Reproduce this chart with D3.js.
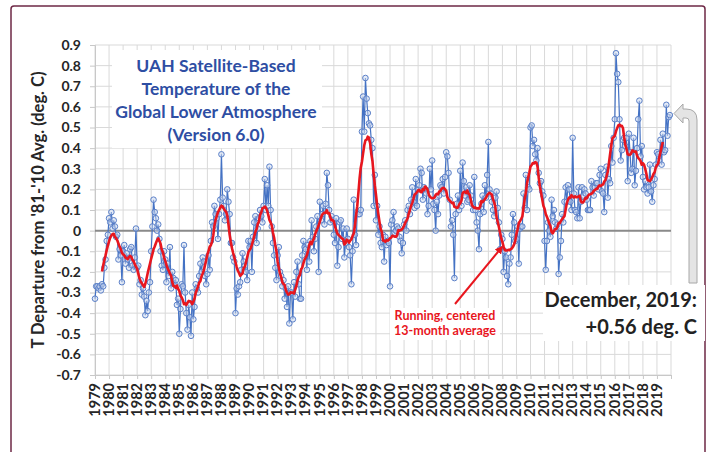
<!DOCTYPE html>
<meta charset="utf-8">
<style>
body { margin: 0; background: #fff; }
text { font-family: Lato, "Liberation Sans", sans-serif; }
.grid line { stroke: #d9d9d9; stroke-width: 1; }
.axis path, .axis line { stroke: #c8c8c8; }
.axis text { font-weight: bold; fill: #262626; }
</style>
<svg width="715" height="452"></svg>
<script src="https://d3js.org/d3.v7.min.js"></script>
<script>

// UAH v6.0 global lower troposphere, monthly anomaly (deg C, 1981-2010 base)
var t1979_1988 = [
  -0.33,-0.27,-0.27,-0.28,-0.27,-0.29,-0.26,-0.27,-0.18,-0.14,-0.05,-0.02,
  0.06,0.04,0.09,0.01,0.05,0.02,-0.03,-0.02,-0.14,-0.09,-0.12,-0.25,
  -0.10,-0.07,-0.16,-0.11,-0.14,-0.18,-0.09,-0.08,-0.17,-0.19,-0.13,0.01,
  -0.18,-0.17,-0.26,-0.24,-0.31,-0.28,-0.32,-0.41,-0.34,-0.39,-0.30,-0.25,
  -0.10,0.02,0.15,0.09,0.06,0.00,0.03,-0.04,-0.10,-0.17,-0.19,-0.10,
  -0.14,-0.25,-0.16,-0.22,-0.08,-0.28,-0.20,-0.23,-0.26,-0.24,-0.36,-0.33,
  -0.50,-0.38,-0.26,-0.27,-0.07,-0.30,-0.40,-0.48,-0.36,-0.42,-0.51,-0.30,
  -0.43,-0.37,-0.26,-0.28,-0.30,-0.22,-0.16,-0.20,-0.13,-0.15,-0.22,-0.26,
  -0.21,-0.12,-0.19,-0.05,0.04,0.02,0.12,0.08,0.06,-0.04,0.08,0.15,
  0.37,0.16,0.12,0.05,0.08,0.20,0.14,0.08,-0.06,-0.06,-0.13,-0.15
];
var t1989_1998 = [
  -0.40,-0.28,-0.31,-0.27,-0.25,-0.19,-0.11,-0.15,-0.17,-0.20,-0.24,-0.05,
  -0.08,-0.05,-0.20,-0.03,0.04,0.07,-0.06,0.01,0.06,0.10,0.07,0.04,
  0.12,0.25,0.10,0.22,0.12,0.31,0.10,0.02,-0.06,-0.12,-0.18,-0.24,
  -0.12,-0.08,-0.20,-0.22,-0.27,-0.24,-0.33,-0.28,-0.37,-0.27,-0.45,-0.30,
  -0.30,-0.43,-0.25,-0.32,-0.20,-0.15,-0.26,-0.33,-0.33,-0.12,-0.05,-0.08,
  -0.09,-0.19,-0.07,-0.15,-0.05,0.05,-0.03,-0.10,-0.04,0.02,0.07,-0.20,
  0.14,0.05,0.08,0.12,0.03,0.13,0.28,0.22,0.10,0.04,0.07,0.05,
  -0.02,-0.06,0.06,-0.17,-0.08,0.04,0.05,-0.04,0.01,-0.13,-0.06,0.01,
  -0.04,-0.08,-0.12,-0.26,-0.10,0.15,-0.02,-0.07,0.09,0.08,0.08,0.10,
  0.48,0.65,0.48,0.74,0.64,0.57,0.52,0.51,0.44,0.40,0.12,0.27
];
var t1999_2008 = [
  0.05,0.12,-0.02,0.02,-0.06,-0.08,-0.02,-0.15,-0.03,-0.07,-0.05,-0.06,
  -0.27,0.03,0.05,0.09,-0.01,0.00,0.02,0.01,-0.03,-0.05,-0.11,-0.06,
  0.03,0.05,0.00,0.10,0.12,0.08,0.15,0.21,0.14,0.11,0.25,0.12,
  0.20,0.22,0.30,0.28,0.15,0.21,0.20,0.18,0.08,0.12,0.30,0.20,
  0.34,0.13,0.10,0.00,0.14,0.08,0.17,0.22,0.21,0.25,0.18,0.26,
  0.38,0.36,0.28,0.15,0.02,0.05,-0.02,-0.23,0.08,0.13,0.17,0.10,
  0.29,0.12,0.33,0.24,0.17,0.21,0.14,0.15,0.22,0.17,0.13,0.10,
  0.26,0.10,0.04,0.00,-0.09,0.08,0.13,0.17,0.09,0.22,0.16,0.27,
  0.43,0.20,0.18,0.14,0.10,0.07,0.16,0.19,0.11,0.04,-0.09,-0.02,
  -0.04,-0.20,-0.10,-0.13,-0.22,-0.26,-0.16,-0.13,-0.02,0.08,0.04,-0.05
];
var t2009_2019 = [
  -0.04,0.02,-0.16,0.01,0.02,0.02,0.18,0.11,0.27,0.10,0.21,0.20,
  0.50,0.51,0.41,0.44,0.37,0.34,0.40,0.28,0.23,0.24,0.19,0.17,
  -0.05,-0.19,-0.05,0.04,0.00,-0.03,0.15,0.07,0.10,0.04,0.01,0.03,
  -0.21,-0.13,-0.05,0.08,0.04,0.14,0.21,0.14,0.22,0.20,0.14,0.10,
  0.45,0.18,0.10,0.09,0.06,0.21,0.06,0.14,0.21,0.17,0.20,0.18,
  0.15,0.10,0.10,0.10,0.24,0.21,0.17,0.21,0.23,0.23,0.20,0.27,
  0.30,0.19,0.18,0.09,0.27,0.31,0.16,0.25,0.23,0.41,0.33,0.45,
  0.54,0.86,0.76,0.72,0.54,0.34,0.39,0.44,0.45,0.41,0.45,0.24,
  0.47,0.38,0.28,0.30,0.45,0.22,0.29,0.40,0.54,0.63,0.36,0.41,
  0.26,0.20,0.24,0.21,0.18,0.21,0.32,0.19,0.14,0.22,0.25,0.32,
  0.38,0.37,0.34,0.44,0.32,0.47,0.38,0.39,0.61,0.46,0.55,0.56
];
var yearLabels = d3.range(1979, 2020).map(String);
var yTicks = d3.range(-7, 10).map(function(d) { return d / 10; });
var titleLines = ["UAH Satellite-Based", "Temperature of the", "Global Lower Atmosphere", "(Version 6.0)"];

var temps = t1979_1988.concat(t1989_1998, t1999_2008, t2009_2019);

// centered 13-month running mean
var running = [];
for (var i = 6; i < temps.length - 6; i++) {
  running.push({ i: i, v: d3.mean(temps.slice(i - 6, i + 7)) });
}

var svg = d3.select("svg");
var plotL = 95, plotR = 671, plotT = 45, plotB = 375;

var x = d3.scaleLinear().domain([0, temps.length]).range([plotL, plotR]);
var y = d3.scaleLinear().domain([-0.7, 0.9]).range([plotB, plotT]);

// frame
svg.append("rect")
    .attr("x", 11).attr("y", 6).attr("width", 694).attr("height", 470)
    .attr("rx", 3)
    .attr("fill", "none").attr("stroke", "#6e2846").attr("stroke-width", 1.5);

// grid
var grid = svg.append("g").attr("class", "grid");
grid.selectAll(".h").data(yTicks).enter().append("line")
    .attr("x1", plotL).attr("x2", plotR)
    .attr("y1", function(d) { return y(d); }).attr("y2", function(d) { return y(d); });
grid.selectAll(".v").data(d3.range(0, temps.length + 1, 12)).enter().append("line")
    .attr("y1", plotT).attr("y2", plotB)
    .attr("x1", function(d) { return x(d); }).attr("x2", function(d) { return x(d); });

// axes
var yAxis = svg.append("g").attr("class", "axis")
    .attr("transform", "translate(" + plotL + ",0)")
    .call(d3.axisLeft(y).tickValues(yTicks).tickSize(5).tickPadding(9)
      .tickFormat(function(d) { return Math.abs(d) < 1e-9 ? "0" : d.toFixed(1); }));
yAxis.select(".domain").attr("stroke", "#c8c8c8");
yAxis.selectAll("text").style("font-size", "14px");

var xAxis = svg.append("g").attr("class", "axis")
    .attr("transform", "translate(0," + plotB + ")")
    .call(d3.axisBottom(x).tickValues(d3.range(0, temps.length + 1, 12)).tickSize(4)
      .tickFormat(function(d) { return yearLabels[d / 12] || ""; }));
xAxis.selectAll("text")
    .style("font-size", "14.5px")
    .attr("text-anchor", "end")
    .attr("transform", "rotate(-90)")
    .attr("x", -8).attr("y", -1).attr("dy", "0.36em");

// zero line
svg.append("line")
    .attr("x1", plotL).attr("x2", plotR).attr("y1", y(0)).attr("y2", y(0))
    .attr("stroke", "#8a8a8a").attr("stroke-width", 2);

// axis title
svg.append("text")
    .attr("transform", "translate(44," + ((plotT + plotB) / 2) + ") rotate(-90)")
    .attr("text-anchor", "middle")
    .style("font-size", "16.5px").style("font-weight", "bold").attr("fill", "#262626")
    .text("T Departure from '81-'10 Avg. (deg. C)");

// title box
svg.append("rect").attr("x", 112).attr("y", 50).attr("width", 210).attr("height", 98).attr("fill", "#fff");
svg.append("g").selectAll("text").data(titleLines).enter().append("text")
    .attr("x", 216).attr("y", function(d, k) { return 72 + k * 23; })
    .attr("text-anchor", "middle")
    .attr("fill", "#2e4ea3")
    .style("font-size", "17.5px").style("font-weight", "bold")
    .text(function(d) { return d; });

// monthly series
var line = d3.line()
    .x(function(d, k) { return x(k); })
    .y(function(d) { return y(d); });
svg.append("path").datum(temps)
    .attr("d", line)
    .attr("fill", "none").attr("stroke", "#4472c4").attr("stroke-width", 1.2);
svg.append("g").selectAll("circle").data(temps).enter().append("circle")
    .attr("cx", function(d, k) { return x(k); })
    .attr("cy", function(d) { return y(d); })
    .attr("r", 2.8)
    .attr("fill", "#c9d7f0").attr("fill-opacity", 0.5)
    .attr("stroke", "#5b80c8").attr("stroke-width", 1);

// running mean
svg.append("path").datum(running)
    .attr("d", d3.line().x(function(d) { return x(d.i); }).y(function(d) { return y(d.v); }))
    .attr("fill", "none").attr("stroke", "#e8161e").attr("stroke-width", 2.6)
    .attr("stroke-linejoin", "round");

// annotation: running mean
svg.append("rect").attr("x", 390).attr("y", 308).attr("width", 110).attr("height", 32).attr("fill", "#fff");
svg.append("defs").append("marker")
    .attr("id", "ah").attr("viewBox", "0 0 10 10").attr("refX", 8).attr("refY", 5)
    .attr("markerWidth", 4).attr("markerHeight", 4).attr("orient", "auto")
  .append("path").attr("d", "M0,0L10,5L0,10Z").attr("fill", "#e8161e");
svg.append("line")
    .attr("x1", 455).attr("y1", 304).attr("x2", 502).attr("y2", 247)
    .attr("stroke", "#e8161e").attr("stroke-width", 2).attr("marker-end", "url(#ah)");
svg.append("text").attr("x", 445).attr("y", 320).attr("text-anchor", "middle")
    .attr("fill", "#e8161e").style("font-size", "12.5px").style("font-weight", "bold")
    .text("Running, centered");
svg.append("text").attr("x", 445).attr("y", 335).attr("text-anchor", "middle")
    .attr("fill", "#e8161e").style("font-size", "12.5px").style("font-weight", "bold")
    .text("13-month average");

// annotation: latest value
svg.append("rect").attr("x", 543).attr("y", 285).attr("width", 162).attr("height", 56).attr("fill", "#fff");
svg.append("text").attr("x", 697).attr("y", 307).attr("text-anchor", "end")
    .attr("fill", "#222").style("font-size", "20px").style("font-weight", "bold")
    .text("December, 2019:");
svg.append("text").attr("x", 697).attr("y", 334).attr("text-anchor", "end")
    .attr("fill", "#222").style("font-size", "20px").style("font-weight", "bold")
    .text("+0.56 deg. C");

svg.append("path")
    .attr("d", "M697,283L697,120Q697,109,686,109L683,109L683,104L674,113.5L683,123L683,118L686,118Q689,118,689,121L689,283Z")
    .attr("fill", "#e4e4e4").attr("stroke", "#a8a8a8").attr("stroke-width", 1);

</script>
